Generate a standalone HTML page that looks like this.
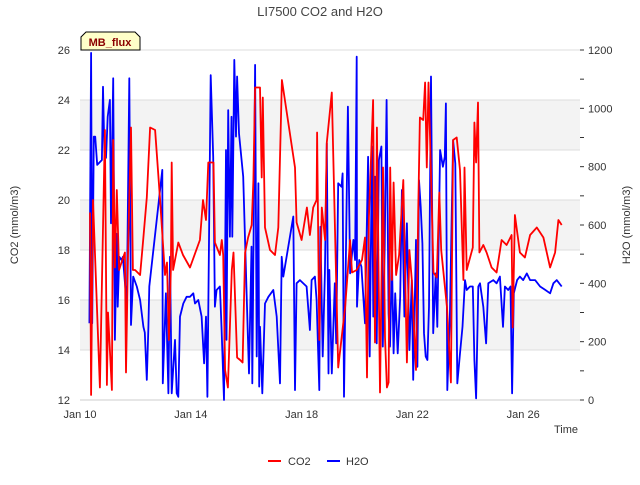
<!DOCTYPE html>
<html><head><meta charset="utf-8"><style>
body{margin:0;background:#fff;}
svg text{font-family:"Liberation Sans","DejaVu Sans",sans-serif;}
</style></head><body>
<svg id="c" width="640" height="480" xmlns="http://www.w3.org/2000/svg">
<text x="320" y="16" text-anchor="middle" font-size="13" fill="#444">LI7500 CO2 and H2O</text>
<g id="bands"></g>
<g id="axes"></g>
<g id="series"></g>
<g>
<path d="M81,50 L81,37 L86,32 L135,32 L140,37 L140,50 Z" fill="#ffffc8" stroke="#000" stroke-width="1"/>
<text x="110" y="46" text-anchor="middle" font-size="11" font-weight="bold" fill="#8b0000">MB_flux</text>
</g>
<text transform="translate(18,225) rotate(-90)" text-anchor="middle" font-size="11" fill="#333">CO2 (mmol/m3)</text>
<text transform="translate(630,225) rotate(-90)" text-anchor="middle" font-size="11" fill="#333">H2O (mmol/m3)</text>
<text x="578" y="433" text-anchor="end" font-size="11" fill="#333">Time</text>
<g>
<line x1="268" y1="461" x2="281" y2="461" stroke="#f00" stroke-width="2"/>
<text x="288" y="465" font-size="11" fill="#333">CO2</text>
<line x1="327" y1="461" x2="340" y2="461" stroke="#00f" stroke-width="2"/>
<text x="346" y="465" font-size="11" fill="#333">H2O</text>
</g>
</svg>
<script>
const xTickLabels=["Jan 10","Jan 14","Jan 18","Jan 22","Jan 26"];
const xTickDays=[0,4,8,12,16];
const leftTicks=[12,14,16,18,20,22,24,26];
const rightTicks=[0,200,400,600,800,1000,1200];
const co2Days=[0.36,0.4,0.47,0.72,0.9,0.97,1.01,1.15,1.2,1.26,1.33,1.41,1.5,1.62,1.66,1.74,1.84,1.91,1.99,2.17,2.29,2.41,2.53,2.71,2.89,3.07,3.14,3.21,3.28,3.31,3.36,3.55,3.72,3.97,4.33,4.44,4.55,4.63,4.82,4.87,5.05,5.12,5.17,5.24,5.34,5.48,5.54,5.67,5.78,5.87,5.96,6.07,6.2,6.26,6.32,6.5,6.56,6.6,6.68,6.86,7.04,7.16,7.29,7.76,7.82,8.0,8.19,8.3,8.42,8.54,8.56,8.64,8.73,8.85,8.91,9.09,9.32,9.57,9.75,9.82,9.99,10.18,10.29,10.36,10.43,10.58,10.65,10.72,10.83,10.94,11.01,11.08,11.14,11.2,11.26,11.32,11.41,11.52,11.67,11.8,11.89,11.98,12.13,12.21,12.27,12.39,12.46,12.52,12.58,12.64,12.76,12.88,12.97,13.04,13.25,13.39,13.47,13.6,13.72,13.84,13.88,13.96,14.18,14.24,14.3,14.37,14.42,14.56,14.68,14.86,15.04,15.22,15.4,15.58,15.62,15.7,15.88,16.06,16.25,16.49,16.73,16.97,17.15,17.27,17.39];
const co2Values=[19.5,12.2,20,12.5,22.8,12.6,15.5,12.4,22.4,17.3,20.4,17.2,17.5,17.9,13.1,18.2,22.9,17.2,17.2,17.0,18.5,20.1,22.9,22.8,20,17.0,17.5,14.4,17.3,21.5,17.2,18.3,17.8,17.3,18.4,20,19.2,21.5,21.5,18.3,17.8,18.4,17.8,13.2,12.5,17.2,17.9,13.7,13.6,13.5,17.9,18.5,19.0,20.8,24.5,24.5,20.9,24.1,18.9,18,17.8,18.9,24.8,21.3,19.1,18.4,19.7,18.6,19.7,20,22.7,14.4,19.7,18.4,22.3,24.3,13.3,15.7,18.4,17.1,17.2,17.6,18.5,12.9,19.3,24.0,14.3,22.9,12.3,21.3,14.5,12.5,12.7,21.3,16.8,20.7,17.0,17.8,20.8,13.5,18.0,16.8,13.2,19.5,23.3,23.2,24.7,21.3,24.7,22.4,17.1,16.9,20.3,18.0,15.7,12.7,22.4,22.5,21.2,16.8,21.3,17.2,18.1,23.1,21.5,23.9,17.9,18.2,17.9,17.3,17.1,18.4,18.2,18.6,14.9,19.4,17.9,17.7,18.6,18.9,18.5,17.3,17.9,19.2,19.0];
const h2oDays=[0.34,0.4,0.44,0.5,0.55,0.62,0.79,0.83,0.88,0.94,1.0,1.08,1.12,1.2,1.26,1.33,1.36,1.42,1.5,1.55,1.69,1.78,1.84,1.92,2.05,2.17,2.29,2.34,2.41,2.47,2.5,2.97,2.99,3.1,3.19,3.25,3.31,3.43,3.49,3.55,3.61,3.73,3.85,3.97,4.09,4.15,4.27,4.39,4.48,4.55,4.6,4.72,4.81,4.87,4.93,5.05,5.11,5.2,5.27,5.29,5.35,5.41,5.47,5.5,5.57,5.63,5.67,5.74,5.89,6.02,6.1,6.19,6.22,6.32,6.38,6.44,6.47,6.5,6.58,6.68,6.8,6.98,7.1,7.22,7.28,7.34,7.7,7.76,7.82,7.94,8.18,8.3,8.36,8.48,8.54,8.64,8.68,8.76,8.84,8.91,8.97,9.0,9.09,9.2,9.25,9.32,9.44,9.48,9.53,9.67,9.75,9.87,9.93,9.99,10.0,10.08,10.16,10.29,10.4,10.46,10.54,10.59,10.65,10.71,10.79,10.88,10.93,11.0,11.07,11.14,11.19,11.26,11.32,11.38,11.47,11.56,11.62,11.71,11.8,11.89,11.98,12.03,12.13,12.18,12.24,12.3,12.36,12.42,12.48,12.54,12.6,12.67,12.75,12.84,12.9,13.0,13.1,13.17,13.21,13.26,13.35,13.47,13.55,13.62,13.72,13.81,13.9,13.96,14.08,14.18,14.24,14.3,14.38,14.44,14.56,14.66,14.74,14.92,15.04,15.16,15.27,15.34,15.46,15.54,15.6,15.66,15.78,15.88,16.0,16.13,16.25,16.43,16.61,16.8,16.97,17.09,17.21,17.39];
const h2oValues=[263,1190,263,903,903,806,823,1074,850,830,971,1029,606,1103,206,570,320,491,480,491,320,1103,257,423,389,343,251,231,69,251,389,789,57,366,23,491,23,206,23,11,286,331,354,354,366,331,343,286,126,286,11,1114,834,320,377,389,251,0,857,206,994,560,971,560,1166,903,1109,914,766,343,91,526,57,1149,149,743,46,251,23,331,354,377,286,57,491,423,629,34,400,411,389,240,411,423,343,34,594,149,434,880,91,446,91,400,194,743,731,777,11,1006,434,549,480,1177,320,480,457,263,834,149,869,286,766,194,823,869,183,526,1029,297,183,491,160,366,160,354,720,286,606,171,411,69,549,114,754,663,537,229,149,137,320,1109,229,434,251,857,800,834,1017,34,274,891,811,57,160,251,411,377,389,389,137,6,389,400,320,194,400,411,400,423,251,389,377,389,23,366,411,423,411,434,411,411,389,377,366,400,411,389];

const NS="http://www.w3.org/2000/svg";
const X0=80,X1=580,Y0=50,Y1=400;
function xS(d){return X0+d*27.7;}
function yL(v){return Y1-(v-12)*(Y1-Y0)/14;}
function yR(v){return Y1-v*(Y1-Y0)/1200;}
function mk(tag,attrs,parent){const e=document.createElementNS(NS,tag);for(const k in attrs)e.setAttribute(k,attrs[k]);parent.appendChild(e);return e;}
const bands=document.getElementById('bands'),axes=document.getElementById('axes'),series=document.getElementById('series');
mk('rect',{x:X0,y:Y0,width:X1-X0,height:Y1-Y0,fill:'#fff'},bands);
[[14,16],[18,20],[22,24]].forEach(b=>{
  const r=mk('rect',{x:X0,y:yL(b[1]),width:X1-X0,height:yL(b[0])-yL(b[1]),fill:'#f3f3f3'},bands);
  
  
});
leftTicks.forEach(v=>{
  const g=mk('line',{x1:X0,x2:X1,y1:yL(v),y2:yL(v),stroke:'#ddd','stroke-width':1},bands);
  
  
  const t=mk('text',{x:X0-10,y:yL(v)+4,'text-anchor':'end','font-size':11,fill:'#333'},axes);
  t.textContent=v;
  
  
});
rightTicks.forEach(v=>{
  const t=mk('text',{x:X1+8,y:yR(v)+4,'font-size':11,fill:'#333'},axes);
  t.textContent=v;
  
  
});
for(let v=0;v<=1200;v+=100){mk('line',{x1:X1,x2:X1+4,y1:yR(v),y2:yR(v),stroke:'#333'},axes);}
mk('line',{x1:X0,x2:X1,y1:Y1,y2:Y1,stroke:'#ccc'},axes);
xTickDays.forEach((d,i)=>{
  const t=mk('text',{x:xS(d),y:Y1+18,'text-anchor':'middle','font-size':11,fill:'#333'},axes);
  t.textContent=xTickLabels[i];
  
  
});
function line(days,vals,ys,color,name){
  const pts=days.map((d,i)=>xS(d).toFixed(1)+','+ys(vals[i]).toFixed(1)).join(' ');
  const p=mk('polyline',{points:pts,fill:'none',stroke:color,'stroke-width':1.8,'stroke-linejoin':'round'},series);
  
  
}
line(h2oDays,h2oValues,yR,'#0000ff','h2o-line');
line(co2Days,co2Values,yL,'#ff0000','co2-line');
</script>
</body></html>
